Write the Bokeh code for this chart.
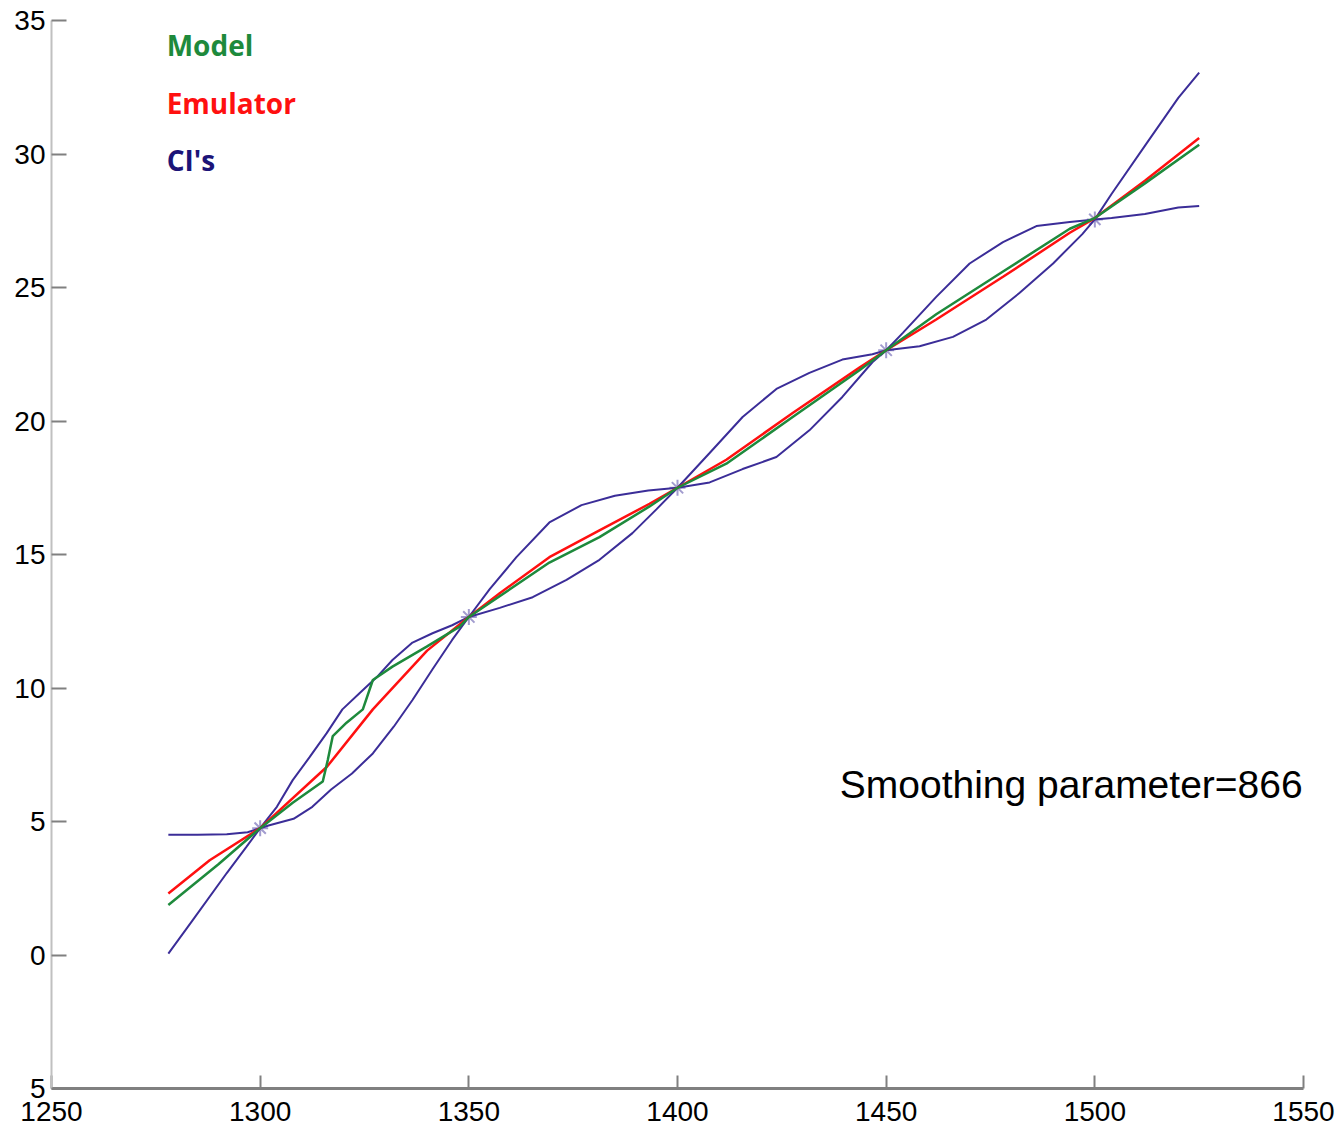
from bokeh.plotting import figure
from bokeh.models import Range1d, FixedTicker, Label
from bokeh.embed import file_html
from bokeh.resources import INLINE

# ---- data ----
ci_a_x = [1278, 1285, 1292, 1297, 1300, 1302, 1308, 1312.5, 1317, 1322, 1327, 1332, 1336.5, 1341.3, 1346, 1350,
          1355, 1361.4, 1369.3, 1377, 1385, 1393, 1400, 1407.7, 1415.6, 1423.7, 1431.6, 1439.5, 1446.7, 1450,
          1454, 1462, 1470, 1478, 1486, 1494, 1500, 1504, 1512, 1520, 1525]
ci_a_y = [4.5, 4.5, 4.52, 4.6, 4.75, 4.85, 5.1, 5.55, 6.2, 6.8, 7.55, 8.55, 9.55, 10.7, 11.8, 12.66,
          13.7, 14.9, 16.2, 16.85, 17.2, 17.4, 17.5, 17.7, 18.2, 18.65, 19.65, 20.9, 22.2, 22.65,
          23.3, 24.65, 25.9, 26.7, 27.3, 27.45, 27.55, 27.6, 27.75, 28.0, 28.05]

ci_b_x = [1278, 1283.8, 1292, 1296.7, 1300, 1304, 1307.8, 1311.8, 1315.9, 1319.7, 1323.8, 1327.9, 1331.7, 1336.5,
          1341.3, 1346, 1350, 1357.4, 1365.3, 1373.4, 1381.3, 1389.2, 1395, 1400, 1407.7, 1415.6, 1423.7, 1431.6,
          1439.5, 1446.7, 1450, 1458, 1466, 1474, 1482, 1490, 1497, 1500, 1504, 1512.4, 1520, 1525]
ci_b_y = [0.05, 1.3, 3.07, 4.05, 4.75, 5.55, 6.55, 7.4, 8.3, 9.2, 9.8, 10.4, 11.05, 11.7,
          12.05, 12.35, 12.66, 13.0, 13.4, 14.05, 14.8, 15.8, 16.7, 17.5, 18.8, 20.15, 21.2, 21.8,
          22.3, 22.5, 22.65, 22.8, 23.15, 23.8, 24.8, 25.9, 27.0, 27.55, 28.5, 30.4, 32.1, 33.05]

model_x = [1278, 1290, 1300, 1307.8, 1315, 1316.2, 1317.4, 1320.7, 1324.6, 1327, 1331.7, 1339.9, 1347.8, 1350,
           1369.3, 1381.3, 1393.3, 1400, 1411.7, 1427.6, 1443.6, 1450, 1462, 1478, 1494, 1500, 1512, 1525]
model_y = [1.87, 3.4, 4.75, 5.7, 6.5, 7.3, 8.2, 8.7, 9.2, 10.3, 10.8, 11.55, 12.3, 12.66,
           14.7, 15.65, 16.8, 17.5, 18.4, 20.15, 21.9, 22.65, 24.0, 25.6, 27.2, 27.6, 28.9, 30.35]

emu_x = [1278, 1287.9, 1300, 1316, 1327, 1340, 1350, 1357.4, 1369.3, 1381.3, 1393.3, 1400, 1411.7, 1427.6,
         1443.6, 1450, 1462, 1478, 1494, 1500, 1512, 1525]
emu_y = [2.3, 3.55, 4.75, 7.05, 9.2, 11.4, 12.66, 13.55, 14.9, 15.9, 16.9, 17.5, 18.55, 20.3,
         22.0, 22.65, 23.8, 25.4, 27.05, 27.6, 29.0, 30.6]

design_x = [1300, 1350, 1400, 1450, 1500]
design_y = [4.75, 12.66, 17.5, 22.65, 27.55]

x_ticks = [1250, 1300, 1350, 1400, 1450, 1500, 1550]
y_ticks = [-5, 0, 5, 10, 15, 20, 25, 30, 35]
y_tick_labels = {-5: "5"}

p = figure(frame_width=1252, frame_height=1068, output_backend="svg", toolbar_location=None,
           x_range=Range1d(1250, 1550), y_range=Range1d(-5, 35),
           min_border_left=51, min_border_top=20, min_border_right=34, min_border_bottom=38)
p.outline_line_color = None
p.grid.visible = False
p.background_fill_color = "white"

for ax in (p.xaxis[0], p.yaxis[0]):
    ax.minor_tick_line_color = None
    ax.major_tick_out = 0
    ax.major_label_text_font = "Liberation Sans"
    ax.major_label_text_color = "black"
    ax.major_tick_line_color = "#808080"
    ax.major_tick_line_width = 2

p.xaxis.ticker = FixedTicker(ticks=x_ticks)
p.yaxis.ticker = FixedTicker(ticks=y_ticks)
p.yaxis.major_label_overrides = y_tick_labels
p.xaxis.major_tick_in = 13
p.yaxis.major_tick_in = 15
p.xaxis.axis_line_color = "#808080"
p.xaxis.axis_line_width = 3
p.yaxis.axis_line_color = "#c0c0c0"
p.yaxis.axis_line_width = 2
p.xaxis.major_label_text_font_size = "28px"
p.yaxis.major_label_text_font_size = "28px"
p.xaxis.major_label_standoff = 13
p.yaxis.major_label_standoff = 6

ci_col = "#3b2d98"
p.scatter(design_x, design_y, marker="asterisk", size=16, line_color="#a29ccf", line_width=2)
p.line(ci_a_x, ci_a_y, line_color=ci_col, line_width=2)
p.line(ci_b_x, ci_b_y, line_color=ci_col, line_width=2)
p.line(emu_x, emu_y, line_color="#ff1010", line_width=2.5)
p.line(model_x, model_y, line_color="#1e8a3c", line_width=2.5)

for txt, yy, col in [("Model", 34.08, "#1e8a3c"), ("Emulator", 31.9, "#ff1010"), ("CI's", 29.78, "#1c1478")]:
    p.add_layout(Label(x=1277.6, y=yy, text=txt, text_color=col, text_font="Open Sans",
                       text_font_size="28px", text_font_style="bold", text_baseline="middle", text_align="left"))

p.add_layout(Label(x=1549.8, y=6.37, text="Smoothing parameter=866", text_color="black",
                   text_font="Liberation Sans", text_font_size="39px",
                   text_baseline="middle", text_align="right"))

open("out.html", "w").write(file_html(p, INLINE))
